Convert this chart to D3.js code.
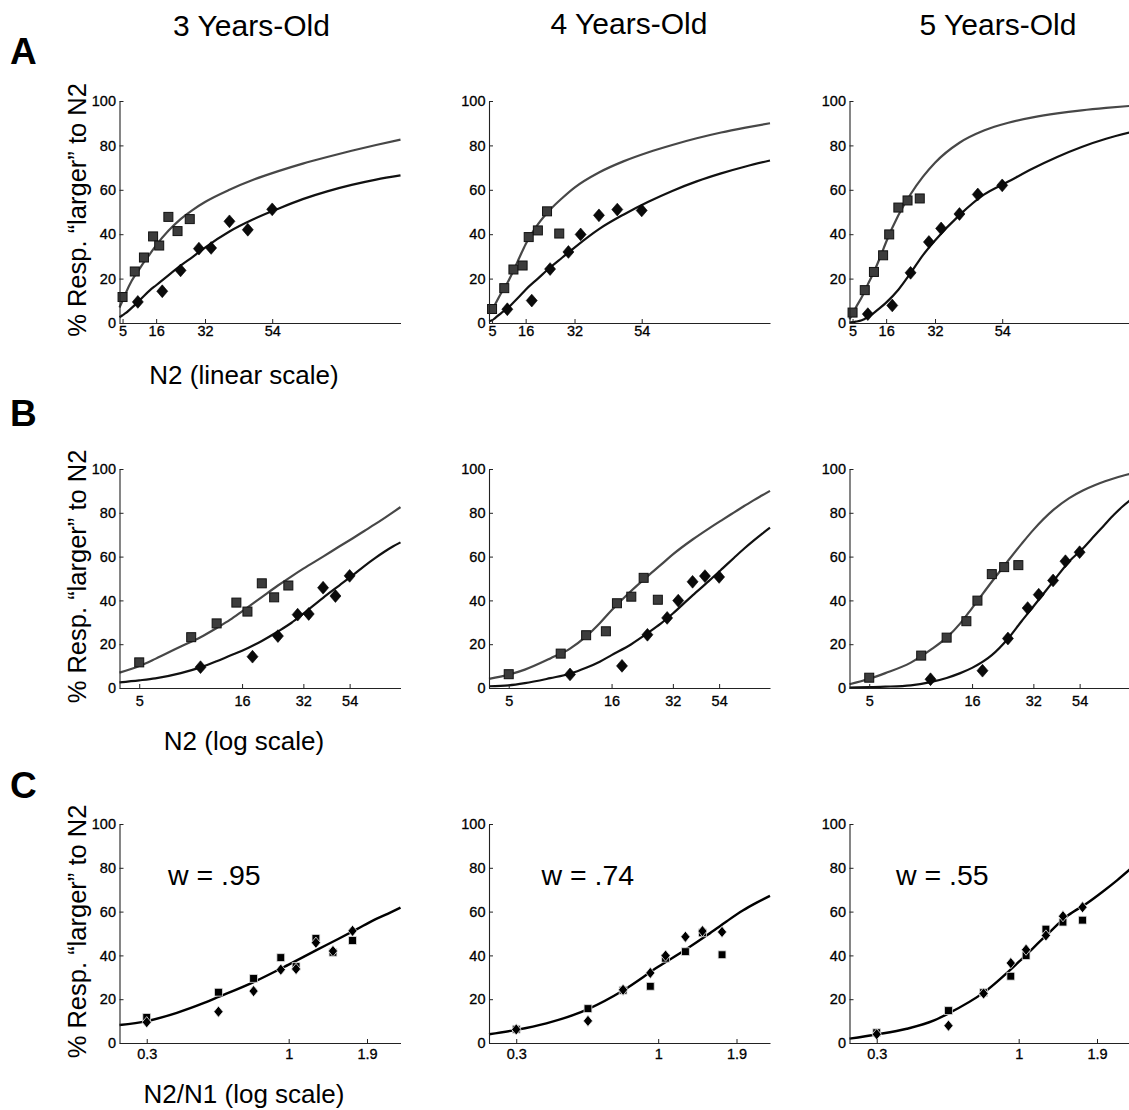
<!DOCTYPE html>
<html>
<head>
<meta charset="utf-8">
<script src="https://cdn.jsdelivr.net/npm/d3@7"></script>
<style>
  body { margin: 0; background: #fff; }
  svg { display: block; font-family: "Liberation Sans", Arial, sans-serif; }
</style>
</head>
<body>
<div id="chart"></div>
<script>
// ---- data ----
var ageTitles = ["3 Years-Old", "4 Years-Old", "5 Years-Old"];
var rowLetters = ["A", "B", "C"];
var xLabels = ["N2 (linear scale)", "N2 (log scale)", "N2/N1 (log scale)"];
var yLabel = "% Resp. \u201Clarger\u201D to N2";
var weberLabels = ["w = .95", "w = .74", "w = .55"];

// reference numerosities (N1) of the two conditions
var squareRef = 16, diamondRef = 32;
var squareN2 = [5, 9, 12, 15, 17, 20, 23, 27];
var diamondN2 = [10, 18, 24, 30, 34, 40, 46, 54];

// observed % "larger" per age group
var squarePct = [
  [11.7, 23.2, 29.5, 39.0, 34.9, 47.8, 41.4, 46.8],
  [6.3, 15.7, 24.1, 25.9, 38.7, 41.7, 50.3, 40.3],
  [4.7, 14.8, 23.0, 30.5, 39.9, 52.0, 55.2, 56.1]
];
var diamondPct = [
  [9.5, 14.3, 23.7, 33.5, 33.8, 45.8, 42.0, 51.2],
  [6.2, 10.1, 24.3, 32.0, 39.9, 48.5, 51.1, 50.7],
  [4.0, 7.9, 22.6, 36.5, 42.6, 49.1, 57.9, 62.0]
];

// fitted curves (N2 axis)
var fitN2 = [4, 5, 6, 8, 10, 12, 14, 16, 20, 24, 28, 32, 40, 48, 56, 64, 72, 80, 88, 96];
var fitSquarePct = [
  [7.0, 10.0, 13.3, 19.0, 23.2, 27.4, 31.2, 35.0, 41.5, 46.8, 51.0, 54.5, 60.0, 64.6, 68.4, 71.8, 74.8, 77.6, 80.2, 82.6],
  [4.2, 6.1, 8.4, 13.5, 18.0, 23.6, 29.6, 35.5, 44.4, 51.0, 56.3, 61.0, 67.8, 72.8, 76.8, 80.2, 83.2, 85.8, 88.0, 90.0],
  [1.7, 4.2, 6.8, 11.6, 17.4, 23.0, 29.5, 36.5, 48.5, 58.0, 65.8, 72.2, 81.2, 86.7, 90.2, 92.6, 94.4, 95.8, 96.9, 97.8]
];
var fitDiamondPct = [
  [2.6, 3.5, 4.4, 6.8, 9.4, 12.2, 14.8, 17.0, 21.5, 25.8, 29.8, 34.0, 41.2, 46.8, 51.5, 55.8, 59.3, 62.2, 64.6, 66.5],
  [0.8, 1.2, 2.2, 4.5, 6.5, 9.2, 12.0, 15.0, 20.0, 25.0, 29.5, 34.0, 42.3, 48.8, 54.5, 59.5, 63.8, 67.4, 70.5, 73.2],
  [0.2, 0.4, 0.6, 1.2, 2.7, 4.6, 6.8, 9.2, 15.0, 22.5, 30.5, 37.2, 48.6, 57.8, 63.7, 69.6, 74.8, 79.3, 83.0, 85.9]
];

// fitted curve on the ratio axis
var fitRatio = [0.25, 0.3125, 0.4, 0.5, 0.5625, 0.75, 1, 1.25, 1.5, 1.75, 2, 2.25, 2.5];
var fitRatioPct = [
  [8.2, 10.0, 13.8, 18.3, 21.0, 27.8, 35.8, 42.3, 47.5, 52.0, 56.0, 59.0, 61.8],
  [4.0, 6.0, 9.0, 12.8, 15.5, 24.0, 34.8, 42.6, 49.4, 55.5, 60.5, 64.2, 67.2],
  [2.0, 3.9, 6.5, 10.3, 13.5, 23.0, 37.0, 49.0, 58.3, 63.8, 69.3, 74.5, 79.5]
];

// axis ticks and limits
var pctTicks = [0, 20, 40, 60, 80, 100];
var n2Ticks = [5, 16, 32, 54];
var n2Limits = [4, 96];
var ratioTicks = [0.3125, 1, 1.9];
var ratioTickLabels = ["0.3", "1", "1.9"];
var ratioLimits = [0.25, 2.5];

// ---- layout ----
var W = 1129, H = 1110;
var colLeft = [119.5, 489, 849.5], plotW = 281;
var rows = [
  {top: 101, bottom: 323, kind: "linear", pad: 3, letterY: 64, labelY: 384},
  {top: 469, bottom: 688, kind: "log", pad: 8, letterY: 426, labelY: 750},
  {top: 824, bottom: 1043, kind: "ratio", pad: 6, letterY: 798, labelY: 1103}
];
var titleX = [251.5, 629, 998], titleY = [36, 33.5, 35];
var weberX = [168, 541.5, 896], weberY = 885;

var grayLine = "#474747", darkLine = "#111";

var svg = d3.select("#chart").append("svg")
    .attr("width", W)
    .attr("height", H);

ageTitles.forEach(function(t, i){
    svg.append("text")
        .attr("x", titleX[i]).attr("y", titleY[i])
        .attr("text-anchor", "middle")
        .style("font-size", "30px")
        .text(t);
});

function diamond(hw, hh){
    return "M0," + (-hh) + "L" + hw + ",0L0," + hh + "L" + (-hw) + ",0Z";
}

rows.forEach(function(row, r){
    svg.append("text")
        .attr("x", 10).attr("y", row.letterY)
        .style("font-size", "37px").style("font-weight", "bold")
        .text(rowLetters[r]);

    svg.append("text")
        .attr("x", 244).attr("y", row.labelY)
        .attr("text-anchor", "middle")
        .style("font-size", "26px")
        .text(xLabels[r]);

    var cy = (row.top + row.bottom) / 2 - 2;
    svg.append("text")
        .attr("transform", "translate(86," + cy + ") rotate(-90)")
        .attr("text-anchor", "middle")
        .style("font-size", "25.5px")
        .text(yLabel);

    colLeft.forEach(function(left, c){
        var g = svg.append("g");
        var y = d3.scaleLinear().domain([0, 100]).range([row.bottom, row.top]);
        var x;
        if(row.kind == "linear"){
            x = d3.scaleLinear().domain(n2Limits).range([left, left + plotW]);
        } else if(row.kind == "log"){
            x = d3.scaleLog().domain(n2Limits).range([left, left + plotW]);
        } else {
            x = d3.scaleLog().domain(ratioLimits).range([left, left + plotW]);
        }

        var xAxis = d3.axisBottom(x).tickSizeInner(-4).tickSizeOuter(0).tickPadding(row.pad);
        if(row.kind == "ratio"){
            xAxis.tickValues(ratioTicks).tickFormat(function(d, i){ return ratioTickLabels[i]; });
        } else {
            xAxis.tickValues(n2Ticks).tickFormat(d3.format("d"));
        }

        var line = d3.line()
            .x(function(d){ return x(d[0]); })
            .y(function(d){ return y(d[1]); })
            .curve(d3.curveMonotoneX);

        if(row.kind == "ratio"){
            g.append("path")
                .attr("fill", "none").attr("stroke", "#000").attr("stroke-width", 2.4)
                .attr("d", line(fitRatio.map(function(v, i){ return [v, fitRatioPct[c][i]]; })));

            g.selectAll("rect.sq")
                .data(squareN2.map(function(n, i){ return [n / squareRef, squarePct[c][i]]; }))
                .join("rect")
                .attr("x", function(d){ return x(d[0]) - 3.9; })
                .attr("y", function(d){ return y(d[1]) - 3.9; })
                .attr("width", 7.8).attr("height", 7.8)
                .attr("fill", "#000").attr("stroke", "#ddd").attr("stroke-width", 0.8);

            g.selectAll("path.dm")
                .data(diamondN2.map(function(n, i){ return [n / diamondRef, diamondPct[c][i]]; }))
                .join("path")
                .attr("transform", function(d){ return "translate(" + x(d[0]) + "," + y(d[1]) + ")"; })
                .attr("d", diamond(4.6, 5.6))
                .attr("fill", "#000").attr("stroke", "#eee").attr("stroke-width", 0.8);

            svg.append("text")
                .attr("x", weberX[c]).attr("y", weberY)
                .style("font-size", "28.5px")
                .text(weberLabels[c]);
        } else {
            g.append("path")
                .attr("fill", "none").attr("stroke", grayLine).attr("stroke-width", 2.2)
                .attr("d", line(fitN2.map(function(n, i){ return [n, fitSquarePct[c][i]]; })));
            g.append("path")
                .attr("fill", "none").attr("stroke", darkLine).attr("stroke-width", 2.2)
                .attr("d", line(fitN2.map(function(n, i){ return [n, fitDiamondPct[c][i]]; })));

            g.selectAll("rect.sq")
                .data(squareN2.map(function(n, i){ return [n, squarePct[c][i]]; }))
                .join("rect")
                .attr("x", function(d){ return x(d[0]) - 4.5; })
                .attr("y", function(d){ return y(d[1]) - 4.5; })
                .attr("width", 9).attr("height", 9)
                .attr("fill", "#3c3c3c").attr("stroke", "#111").attr("stroke-width", 1);

            g.selectAll("path.dm")
                .data(diamondN2.map(function(n, i){ return [n, diamondPct[c][i]]; }))
                .join("path")
                .attr("transform", function(d){ return "translate(" + x(d[0]) + "," + y(d[1]) + ")"; })
                .attr("d", diamond(5.5, 6.4))
                .attr("fill", "#0a0a0a").attr("stroke", "#000").attr("stroke-width", 0.6);
        }

        var xg = g.append("g")
            .attr("transform", "translate(0," + row.bottom + ")")
            .call(xAxis);
        var yg = g.append("g")
            .attr("transform", "translate(" + left + ",0)")
            .call(d3.axisLeft(y).tickValues(pctTicks).tickSizeInner(-4).tickSizeOuter(0).tickPadding(3.5));

        [xg, yg].forEach(function(a){
            a.selectAll("path.domain").attr("stroke", "#222").attr("stroke-width", 1.1);
            a.selectAll(".tick line").attr("stroke", "#222");
            a.selectAll(".tick text")
                .attr("fill", "#000")
                .attr("stroke", "#000").attr("stroke-width", 0.3)
                .style("font-size", "14.5px")
                .style("font-family", "'Liberation Sans', Arial, sans-serif");
        });
    });
});
</script>
</body>
</html>
